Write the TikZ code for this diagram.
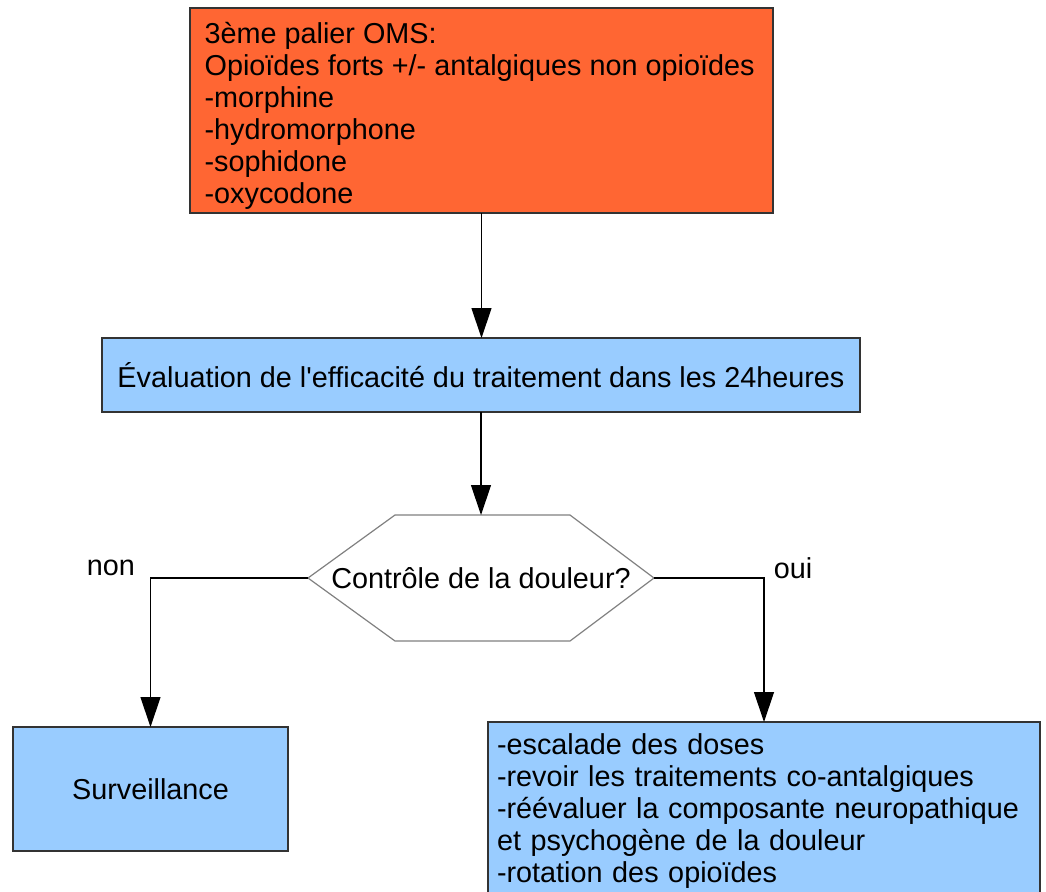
\documentclass[tikz,border=0pt]{standalone}
\usepackage{fontspec}
\setmainfont{Liberation Sans}[Ligatures=TeXOff]
\usetikzlibrary{arrows.meta}
\definecolor{palier}{HTML}{FF6633}
\definecolor{bleu}{HTML}{99CCFF}

\begin{document}
\begin{tikzpicture}[x=0.5pt, y=-0.5pt, line width=0.6pt,
                    font=\fontsize{14.4}{16}\selectfont,
                    box node/.style={rectangle,draw=black!80,inner sep=0pt,outer sep=0pt},
                    hex node/.style={rectangle,inner sep=0pt,outer sep=0pt,minimum width=173pt,minimum height=63pt},
                    arrow/.style={-{Triangle[length=15pt,width=10pt]}}]
  \useasboundingbox (0,0) rectangle (1046,891);
  \node[box node,fill=palier,minimum width=291.5pt,minimum height=102.5pt] (top) at (481.5,110.5) {};
  \node[anchor=west,align=left,inner sep=0pt,yshift=-2.5pt] (toptext) at ([xshift=7pt]top.west)
        {3ème palier OMS:\\Opioïdes forts +/- antalgiques non opioïdes\\-morphine\\-hydromorphone\\-sophidone\\-oxycodone};
  \node[box node,fill=bleu,minimum width=379pt,minimum height=37pt] (eval) at (481,375)
        {Évaluation de l'efficacité du traitement dans les 24heures};
  \node[hex node] (ctrl) at (481,578) {Contrôle de la douleur?};
  \node[box node,fill=bleu,minimum width=137.5pt,minimum height=62pt] (surv) at (150.5,789) {Surveillance};
  \node[box node,fill=bleu,anchor=north west,text width=267pt,inner xsep=4.5pt,inner ysep=6pt,
        align=left] (act) at (488,722)
        {-escalade des doses\\-revoir les traitements co-antalgiques\\-réévaluer la composante neuropathique\\et psychogène de la douleur\\-rotation des opioïdes\\[2pt]};
  \node (non) at (111,568) {non};
  \node (oui) at (793,568) {oui};
  % hexagone
  \draw[black!50] (ctrl.west) -- ([xshift=43.5pt]ctrl.north west) -- ([xshift=-42pt]ctrl.north east)
    -- (ctrl.east) -- ([xshift=-42pt]ctrl.south east) -- ([xshift=43.5pt]ctrl.south west) -- cycle;
  \draw[arrow] (top.south) -- (top.south |- eval.north);
  \draw[arrow] (eval.south) -- (eval.south |- ctrl.north);
  \draw[arrow] (ctrl.west) -| (surv.north);
  \draw[arrow] (ctrl.east) -| (act.north);
\end{tikzpicture}
\end{document}
